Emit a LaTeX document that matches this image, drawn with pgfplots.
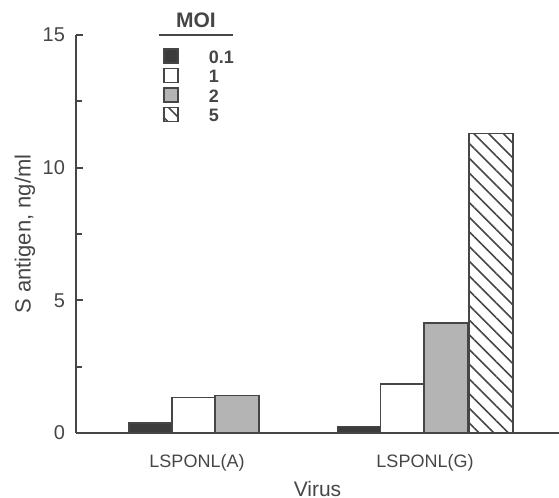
\documentclass[border=0pt]{standalone}
\usepackage{fontspec}
\setmainfont{Liberation Sans}
\usepackage{pgfplots}
\pgfplotsset{compat=1.18}
\usetikzlibrary{patterns.meta}
\definecolor{ink}{RGB}{70,70,70}
\definecolor{darkbar}{RGB}{60,60,60}
\definecolor{stip}{RGB}{180,180,180}

\begin{document}
\begin{tikzpicture}
\begin{axis}[
  scale only axis,
  width=241.5pt, height=199pt,
  xmin=0, xmax=483,
  ymin=0, ymax=15,
  clip=false,
  axis x line*=bottom, axis y line*=left,
  axis line style={ink, line width=1pt},
  ybar, bar width=44,
  ytick={0,5,10,15}, minor ytick={2.5,7.5,12.5},
  tick align=inside,
  major tick length=3.5pt, minor tick length=3pt,
  ytick style={ink, line width=0.9pt},
  minor tick style={ink, line width=0.9pt},
  xtick={121,349}, xticklabels={LSPONL(A),LSPONL(G)},
  xtick style={draw=none},
  /pgf/number format/assume math mode=true,
  yticklabel style={font=\fontsize{10}{11}\selectfont, text=ink, xshift=-2pt},
  xticklabel style={font=\fontsize{9}{10}\selectfont, text=ink, anchor=north, yshift=-7pt},
  ylabel={S antigen, ng/ml},
  ylabel style={at={(axis description cs:0,0.5)}, anchor=center, yshift=25.5pt,
    font=\fontsize{11}{13}\selectfont, text=ink},
  xlabel={Virus},
  xlabel style={at={(axis description cs:0.5,0)}, anchor=center, yshift=-28pt,
    font=\fontsize{10.5}{12}\selectfont, text=ink},
  legend style={at={(rel axis cs:0.18,0.9675)}, anchor=north west, draw=none, fill=none,
    inner sep=0pt, font=\bfseries\fontsize{9}{10}\selectfont, text=ink,
    nodes={inner sep=0pt, text height=6.5pt, text depth=1.5pt},
    row sep=0.9pt, column sep=0pt},
  legend cell align=left,
  legend image code/.code={%
    \draw[#1, line width=0.7pt] (0pt,-2.5pt) rectangle (7pt,4.5pt);
    \node[inner sep=0pt, text height=0pt, text depth=0pt, minimum size=0pt] at (16pt,1pt) {};},
]
\addplot[bar shift=0pt, draw=ink, line width=0.75pt, fill=darkbar]
  coordinates {(75,0.38) (283.5,0.25)};
\addplot[bar shift=0pt, draw=ink, line width=0.75pt, fill=white]
  coordinates {(118,1.33) (326.5,1.85)};
\addplot[bar shift=0pt, draw=ink, line width=0.75pt, fill=stip]
  coordinates {(161,1.41) (370,4.15)};
\addplot[bar shift=0pt, draw=ink, line width=0.75pt,
  pattern={Lines[angle=-45, distance=5.2pt, line width=0.8pt]}, pattern color=ink]
  coordinates {(415,11.28)};
\legend{\hspace{6pt}0.1,\hspace{6pt}1,\hspace{6pt}2,\hspace{6pt}5}
\node[font=\bfseries\fontsize{10.5}{12}\selectfont, text=ink] at (rel axis cs:0.2484,1.0377) {MOI};
\draw[ink, line width=1pt] (rel axis cs:0.1718,1.0) -- (rel axis cs:0.325,1.0);
\coordinate (bl) at (rel axis cs:0,0);
\coordinate (tr) at (rel axis cs:1,1);
\end{axis}
\pgfresetboundingbox
\path ([shift={(-38pt,-32.5pt)}]bl) rectangle ([shift={(0pt,17.5pt)}]tr);
\end{tikzpicture}
\end{document}
